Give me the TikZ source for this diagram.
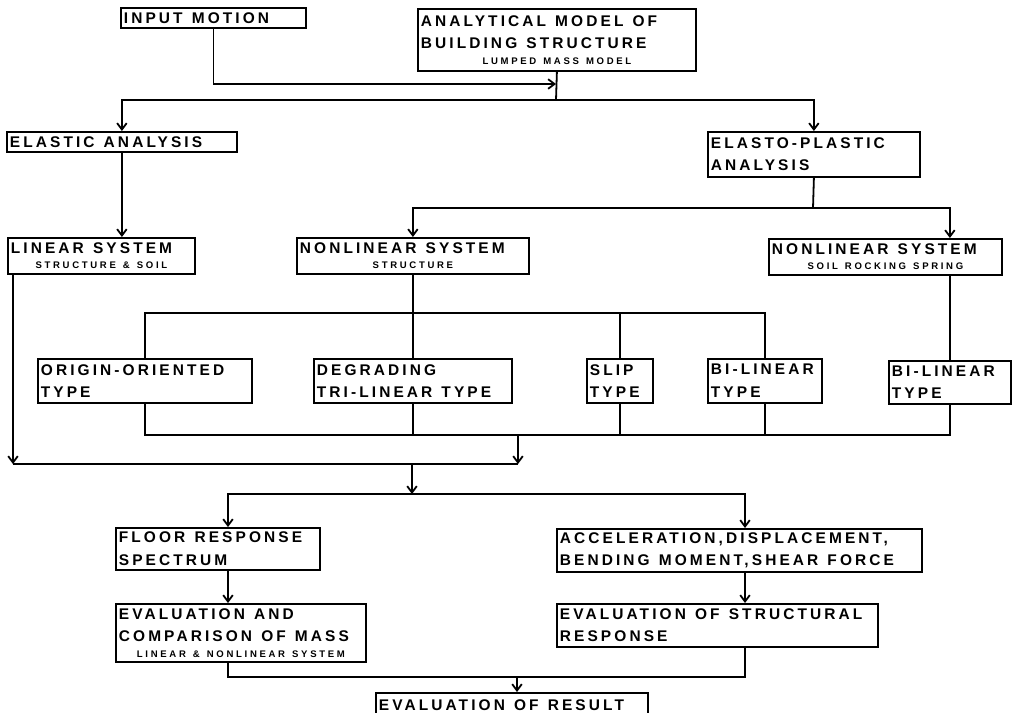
\documentclass[tikz,border=0pt]{standalone}
\usepackage{fontspec}
\usepackage{tikz}
\usetikzlibrary{arrows.meta}
\newfontfamily\boxfont[LetterSpace=20]{Liberation Sans}
\newfontfamily\subfont[LetterSpace=28]{Liberation Sans}
\newcommand\smalltxt[1]{\\[-5pt]\hspace*{\fill}{\subfont\bfseries\fontsize{6.8}{8}\selectfont\spaceskip=5pt\relax #1}\hspace*{\fill}\null}

\begin{document}
\begin{tikzpicture}[x=0.25mm,y=-0.25mm,line width=0.45mm,>={Straight Barb[length=1.6mm,width=2.4mm]},
box/.style={draw,anchor=north west,align=flush left,inner xsep=0.75mm,inner ysep=0.5mm,font={\fontsize{11}{16}\boxfont\bfseries\spaceskip=6.5pt\relax}}]
\useasboundingbox (0,0) rectangle (1016,712);
\clip (0,0) rectangle (1016,712);
\node[box,minimum width=46.25mm,minimum height=5mm,text width=44.75mm] (input) at (120,7) {INPUT MOTION};
\node[box,minimum width=69.5mm,minimum height=15.5mm,text width=68mm] (model) at (417,8) {ANALYTICAL MODEL OF\\BUILDING STRUCTURE\smalltxt{LUMPED MASS MODEL}};
\node[box,minimum width=57.5mm,minimum height=5mm,text width=56mm] (elastic) at (6,131) {ELASTIC ANALYSIS};
\node[box,minimum width=53mm,minimum height=11.25mm,text width=51.5mm] (plastic) at (707,131) {ELASTO-PLASTIC\\ANALYSIS};
\node[box,minimum width=46.75mm,minimum height=9mm,text width=45.25mm] (linear) at (7,237) {LINEAR SYSTEM\smalltxt{STRUCTURE \& SOIL}};
\node[box,minimum width=58mm,minimum height=9mm,text width=56.5mm] (nlstruct) at (296,237) {NONLINEAR SYSTEM\smalltxt{STRUCTURE}};
\node[box,minimum width=58.25mm,minimum height=9mm,text width=56.75mm] (nlsoil) at (768,238) {NONLINEAR SYSTEM\smalltxt{SOIL ROCKING SPRING}};
\node[box,minimum width=53.5mm,minimum height=11mm,text width=52mm] (origin) at (37,358) {ORIGIN-ORIENTED\\TYPE};
\node[box,minimum width=49.5mm,minimum height=11mm,text width=48mm] (degrading) at (313,358) {DEGRADING\\TRI-LINEAR TYPE};
\node[box,minimum width=16.5mm,minimum height=11mm,text width=15mm] (slip) at (586,358) {SLIP\\TYPE};
\node[box,minimum width=28.5mm,minimum height=11mm,text width=27mm] (bilin1) at (707,358) {BI-LINEAR\\TYPE};
\node[box,minimum width=30.5mm,minimum height=10.75mm,text width=29mm] (bilin2) at (888,360) {BI-LINEAR\\TYPE};
\node[box,minimum width=51mm,minimum height=10.5mm,text width=49.5mm] (floor) at (115,527) {FLOOR RESPONSE\\SPECTRUM};
\node[box,minimum width=91.25mm,minimum height=10.75mm,text width=89.75mm] (accel) at (556,528) {ACCELERATION,DISPLACEMENT,\\BENDING MOMENT,SHEAR FORCE};
\node[box,minimum width=62.5mm,minimum height=14.5mm,text width=61mm] (evalmass) at (115,603) {EVALUATION AND\\COMPARISON OF MASS\smalltxt{LINEAR \& NONLINEAR SYSTEM}};
\node[box,minimum width=80.25mm,minimum height=10.75mm,text width=78.75mm] (evalstruct) at (556,603) {EVALUATION OF STRUCTURAL\\RESPONSE};
\node[box,minimum width=68mm,minimum height=6mm,text width=66.5mm] (result) at (375,692) {EVALUATION OF RESULT};
\coordinate (join1) at (556,84);
\coordinate (split1) at (556,100);
\coordinate (split2) at (813,208);
\coordinate (bar1) at (412,313);
\coordinate (bar2) at (518,435);
\coordinate (join2) at (518,464);
\coordinate (lin) at (13,464);
\coordinate (drop) at (412,464);
\coordinate (split3) at (412,494);
\coordinate (lcol) at (228,494);
\coordinate (rcol) at (745,494);
\coordinate (join3) at (517,677);
\draw[->] (input.south) |- (join1);
\draw (model.south) -- (split1);
\draw[->] (split1) -| (elastic.north);
\draw[->] (split1) -| (plastic.north);
\draw[->] (elastic.south) -- (elastic.south |- linear.north);
\draw (plastic.south) -- (split2);
\draw[->] (split2) -| (nlstruct.north);
\draw[->] (split2) -| (nlsoil.north -| bilin2.north);
\draw (nlstruct.south) -- (degrading.north);
\draw (origin.north) |- (bar1) -| (bilin1.north);
\draw (slip.north) -- (slip.north |- bar1);
\draw (bilin2.north |- nlsoil.south) -- (bilin2.north);
\draw (origin.south) |- (bar2) -| (bilin2.south);
\draw (degrading.south) -- (degrading.south |- bar2);
\draw (slip.south) -- (slip.south |- bar2);
\draw (bilin1.south) -- (bilin1.south |- bar2);
\draw[->] (bar2) -- (join2);
\draw[->] (linear.south -| lin) -- (lin);
\draw (lin) -- (join2);
\draw[->] (drop) -- (split3);
\draw[->] (split3) -| (lcol |- floor.north);
\draw[->] (split3) -| (rcol |- accel.north);
\draw[->] (lcol |- floor.south) -- (lcol |- evalmass.north);
\draw[->] (rcol |- accel.south) -- (rcol |- evalstruct.north);
\draw (lcol |- evalmass.south) |- (join3) -| (rcol |- evalstruct.south);
\draw[->] (join3) -- (join3 |- result.north);
\end{tikzpicture}
\end{document}
